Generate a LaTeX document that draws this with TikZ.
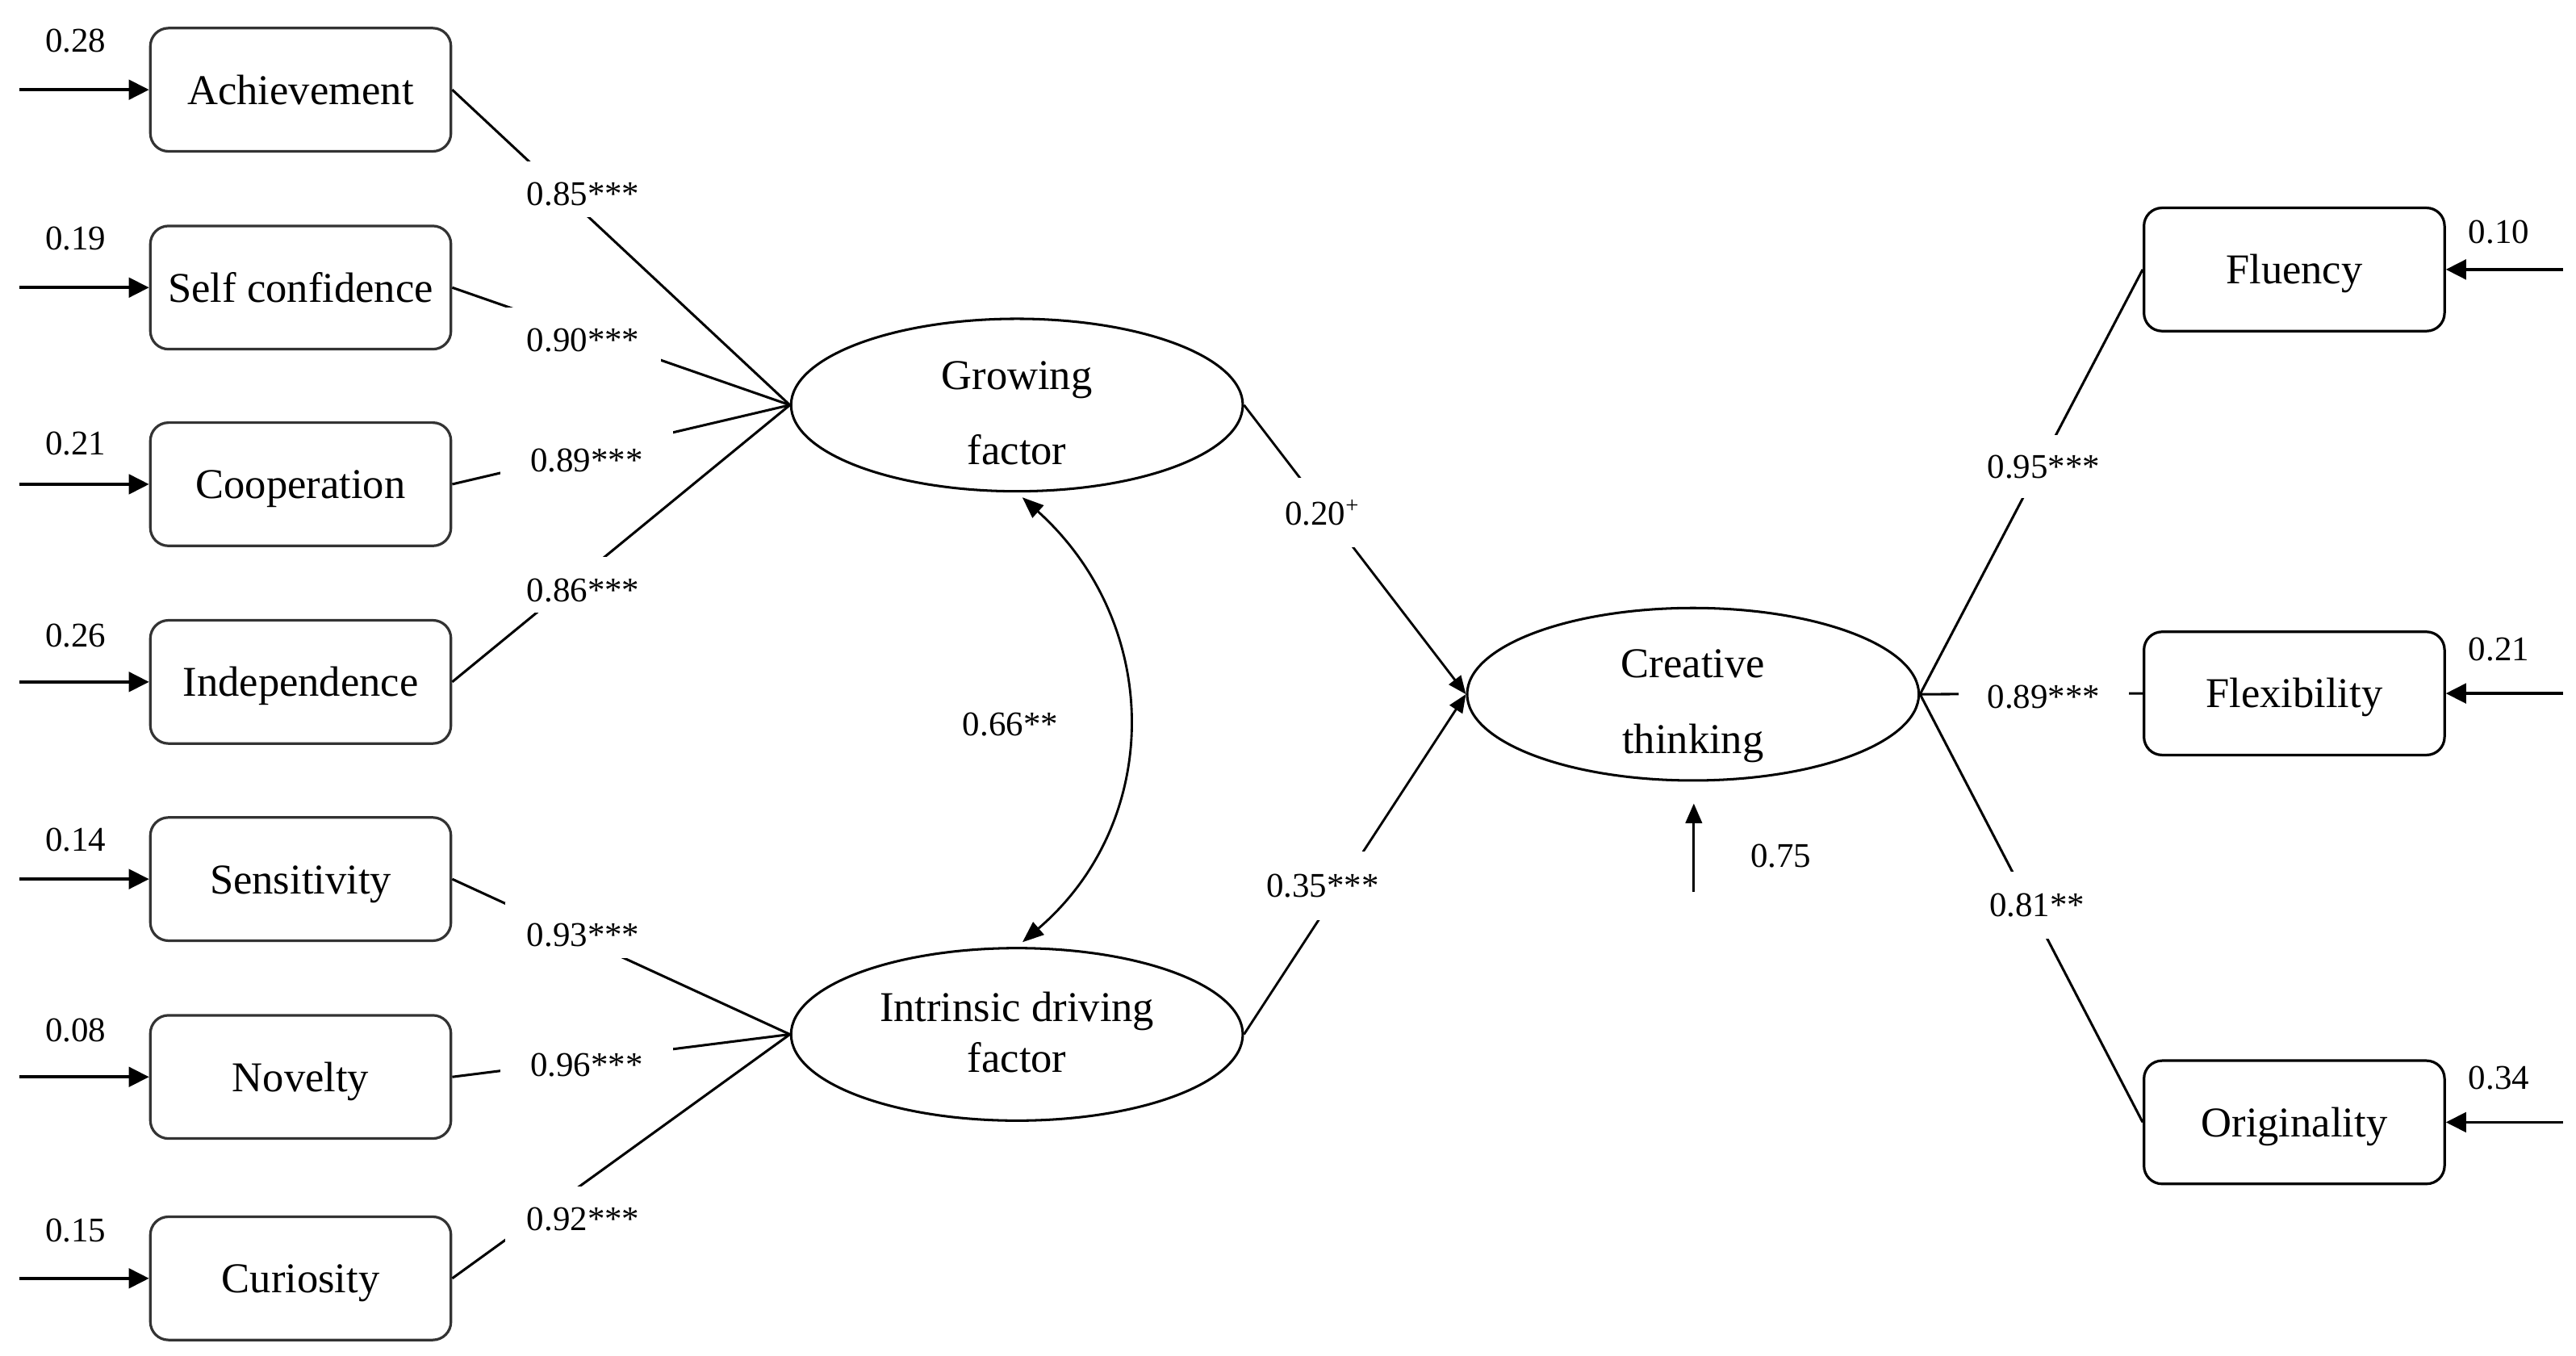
\documentclass[tikz,border=0pt]{standalone}
\usepackage{fontspec}
\setmainfont{Liberation Serif}
\usetikzlibrary{shapes.geometric,arrows.meta}
\newcommand{\boxfont}{\fontsize{14.7}{17}\selectfont}
\newcommand{\numfont}{\fontsize{12}{14}\selectfont}
\begin{document}
\begin{tikzpicture}[x=0.02cm,y=-0.02cm,
 obs/.style={draw=black!80, line width=0.9pt, rounded corners=0.22cm, minimum width=3.66cm, minimum height=1.5cm, inner sep=0pt, font=\boxfont, text height=10pt, text depth=0pt},
 obsR/.style={obs, draw=black},
 lat/.style={ellipse, draw, line width=0.85pt, minimum width=5.5cm, minimum height=2.1cm, inner sep=0pt},
 lattext/.style={anchor=base, font=\boxfont, inner sep=0pt},
 loadln/.style={line width=0.85pt},
 resar/.style={line width=1.05pt, -{Triangle[length=7pt,width=6.8pt]}},
 pathar/.style={line width=0.8pt, -{Triangle[length=6.3pt,width=5.2pt]}},
 elab/.style={fill=white, inner sep=0pt, minimum width=1.9cm, minimum height=0.68cm, font=\numfont},
 lowtxt/.style={text height=11.5pt, text depth=0pt},
 numlbl/.style={font=\numfont, inner sep=0pt}
]
\fill[white] (0,0) rectangle (1568,824.8);
\useasboundingbox (0,0) rectangle (1568,824.8);

% observed indicators, left
\node[obs] (A)  at (183,54.6)  {Achievement};
\node[obs] (S)  at (183,175)   {Self confidence};
\node[obs] (Co) at (183,294.7) {Cooperation};
\node[obs] (In) at (183,415)   {Independence};
\node[obs] (Se) at (183,535)   {Sensitivity};
\node[obs] (N)  at (183,655.4) {Novelty};
\node[obs] (Cu) at (183,778)   {Curiosity};

% observed indicators, right
\node[obsR] (Fl) at (1396.5,164) {Fluency};
\node[obsR] (Fx) at (1396.5,422) {Flexibility};
\node[obsR] (Or) at (1396.5,683) {Originality};

% latent variables
\node[lat] (G) at (619,246.5) {};
\node[lat] (I) at (619,629.5) {};
\node[lat] (C) at (1030.5,422.5) {};
\node[lattext] (Gt1) at (619,236.9) {Growing};
\node[lattext] (Gt2) at (619,282.8) {factor};
\node[lattext] (It1) at (619,621.4) {Intrinsic driving};
\node[lattext] (It2) at (619,652.4) {factor};
\node[lattext] (Ct1) at (1030.5,412.6) {Creative};
\node[lattext] (Ct2) at (1030.5,458.7) {thinking};

% loadings
\draw[loadln] (A.east)  -- (G.west);
\draw[loadln] (S.east)  -- (G.west);
\draw[loadln] (Co.east) -- (G.west);
\draw[loadln] (In.east) -- (G.west);
\draw[loadln] (Se.east) -- (I.west);
\draw[loadln] (N.east)  -- (I.west);
\draw[loadln] (Cu.east) -- (I.west);
\draw[loadln] (C.east) -- (Fl.west);
\draw[loadln] (C.east) -- (Fx.west);
\draw[loadln] (C.east) -- (Or.west);

% structural paths
\draw[pathar] (G.east) -- (C.west);
\draw[pathar] (I.east) -- (C.west);
\draw[line width=0.8pt, {Triangle[length=7.4pt,width=5.7pt]}-{Triangle[length=7.4pt,width=5.7pt]}, shorten <=2.5pt, shorten >=2.5pt]
  (G.south) .. controls (708,380) and (708,500) .. (I.north);

% residual arrows, left
\coordinate (rA)  at (12,54.6);
\coordinate (rS)  at (12,175);
\coordinate (rCo) at (12,294.7);
\coordinate (rIn) at (12,415);
\coordinate (rSe) at (12,535);
\coordinate (rN)  at (12,655.4);
\coordinate (rCu) at (12,778);
\draw[resar] (rA)  -- (A.west);
\draw[resar] (rS)  -- (S.west);
\draw[resar] (rCo) -- (Co.west);
\draw[resar] (rIn) -- (In.west);
\draw[resar] (rSe) -- (Se.west);
\draw[resar] (rN)  -- (N.west);
\draw[resar] (rCu) -- (Cu.west);

% residual arrows, right
\coordinate (rFl) at (1560,164);
\coordinate (rFx) at (1560,422);
\coordinate (rOr) at (1560,683);
\draw[resar] (rFl) -- (Fl.east);
\draw[resar] (rFx) -- (Fx.east);
\draw[resar] (rOr) -- (Or.east);

% disturbance of creative thinking
\coordinate (dCs) at (1031,543);
\coordinate (dCe) at (1031,489);
\draw[line width=0.8pt, -{Triangle[length=6.8pt,width=5.7pt]}] (dCs) -- (dCe);

% residual labels
\node[numlbl] (eA)  at (46,25)    {0.28};
\node[numlbl] (eS)  at (46,145)   {0.19};
\node[numlbl] (eCo) at (46,270)   {0.21};
\node[numlbl] (eIn) at (46,387)   {0.26};
\node[numlbl] (eSe) at (46,511)   {0.14};
\node[numlbl] (eN)  at (46,627)   {0.08};
\node[numlbl] (eCu) at (46,749)   {0.15};
\node[numlbl] (eFl) at (1521,141) {0.10};
\node[numlbl] (eFx) at (1521,395) {0.21};
\node[numlbl] (eOr) at (1521,656) {0.34};
\node[numlbl] (eC)  at (1084,521) {0.75};

% coefficient labels
\node[elab, lowtxt] (L85) at (355,115) {0.85***};
\node[elab, lowtxt] (L90) at (355,204) {0.90***};
\node[elab, lowtxt, minimum width=2.1cm] (L89) at (357,277) {0.89***};
\node[elab, lowtxt] (L86) at (355,356) {0.86***};
\node[elab, lowtxt] (L93) at (355,566) {0.93***};
\node[elab, lowtxt, minimum width=2.1cm] (L96) at (357,645) {0.96***};
\node[elab, lowtxt] (L92) at (355,739) {0.92***};
\node[elab, minimum height=0.84cm] (L20) at (805,312) {0.20\textsuperscript{+}};
\node[elab, minimum height=0.84cm] (L35) at (805,539) {0.35***};
\node[elab, minimum height=0.76cm] (L95) at (1244,284) {0.95***};
\node[elab, minimum width=2.08cm] (L89r) at (1244,424) {0.89***};
\node[elab, minimum height=0.82cm] (L81) at (1240,551) {0.81**};
\node[numlbl] (L66) at (615,441) {0.66**};
\end{tikzpicture}
\end{document}
